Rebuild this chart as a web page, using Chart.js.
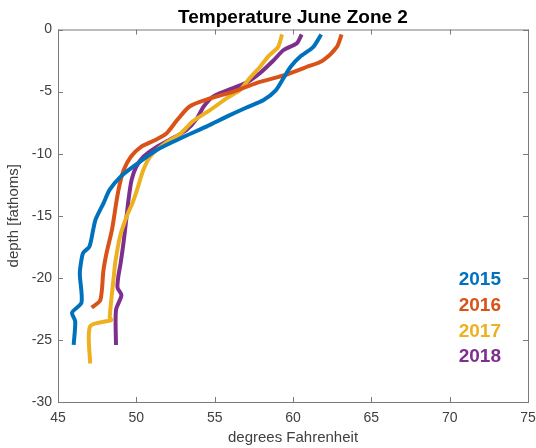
<!DOCTYPE html>
<html>
<head>
<meta charset="utf-8">
<script src="https://cdn.jsdelivr.net/npm/chart.js@4.4.1/dist/chart.umd.min.js"></script>
<style>
	html, body { margin: 0; padding: 0; background: #fff; }
	#wrap { width: 536px; height: 448px; }
</style>
</head>
<body>
<div id="wrap"><canvas id="chart" width="536" height="448"></canvas></div>
<script>
// values: temperature (F) against depth (fathoms)
const years = ['2015', '2016', '2017', '2018'];
const colors = ['#0072BD', '#D95319', '#EDB120', '#7E2F8E'];

const temps2015 = [61.8, 61.3, 60.45, 59.85, 59.4, 58.9, 58.1, 57.0, 55.8, 54.5, 53.1, 51.3, 49.8, 49.0, 48.3, 47.9, 47.4, 47.25, 47.0, 46.6, 46.4, 46.4, 46.5, 45.9, 46.1, 46.0];
const depths2015 = [-0.4, -1.4, -2.2, -3.0, -3.9, -4.9, -5.7, -6.3, -7.0, -7.8, -8.6, -9.7, -11.05, -11.85, -12.9, -14.0, -15.3, -16.1, -17.5, -18.0, -19.4, -19.9, -22.0, -22.8, -23.5, -25.4];

const temps2016 = [63.1, 62.8, 61.9, 60.9, 59.4, 57.7, 56.2, 54.7, 53.4, 52.6, 51.9, 51.2, 50.3, 49.65, 49.2, 48.95, 48.75, 48.45, 48.1, 47.9, 47.7, 47.15];
const depths2016 = [-0.4, -1.4, -2.5, -3.0, -3.7, -4.3, -5.0, -5.55, -6.2, -7.3, -8.4, -8.9, -9.45, -10.25, -11.3, -12.4, -13.7, -16.1, -18.0, -19.4, -21.8, -22.4];

const temps2017 = [59.3, 59.05, 58.4, 57.9, 57.25, 56.6, 55.8, 54.7, 53.6, 52.8, 51.8, 50.9, 50.45, 50.05, 49.75, 49.4, 48.95, 48.65, 48.6, 48.3, 48.4, 47.05, 47.05];
const depths2017 = [-0.4, -1.4, -2.2, -3.0, -3.9, -4.9, -5.5, -6.5, -7.4, -8.4, -9.2, -10.2, -11.3, -12.9, -14.0, -15.0, -16.7, -18.8, -19.4, -23.2, -23.4, -23.9, -26.9];

const temps2018 = [60.55, 60.25, 59.4, 58.75, 57.9, 57.0, 55.8, 54.9, 54.3, 53.85, 53.2, 52.4, 51.3, 50.45, 50.0, 49.7, 49.5, 49.4, 49.2, 49.0, 48.85, 48.8, 49.05, 48.7, 48.7];
const depths2018 = [-0.4, -1.1, -1.65, -2.5, -3.5, -4.3, -4.9, -5.4, -6.2, -7.2, -8.1, -8.7, -9.45, -10.25, -11.05, -12.1, -13.7, -14.8, -17.0, -18.8, -19.9, -20.8, -21.4, -22.6, -25.4];

const xTicks = [45, 50, 55, 60, 65, 70, 75];
const yTicks = [-30, -25, -20, -15, -10, -5, 0];
const titleText = 'Temperature June Zone 2';

const allTemps = [temps2015, temps2016, temps2017, temps2018];
const allDepths = [depths2015, depths2016, depths2017, depths2018];

const textColor = '#404040';
const axisColor = '#7a7a7a';
const fontFamily = '"Liberation Sans", Arial, sans-serif';

function toPoints(t, d){
	return t.map((v, i) => ({x: v, y: d[i]}));
}

// MATLAB style box with inward ticks on all four sides, title over the axes
const boxPlugin = {
	id: 'matlabBox',
	afterDatasetsDraw(chart){
		const ctx = chart.ctx;
		const a = chart.chartArea;
		const xs = chart.scales.x, ys = chart.scales.y;
		const len = 5;
		ctx.save();
		ctx.strokeStyle = axisColor;
		ctx.lineWidth = 1;
		ctx.strokeRect(a.left + 0.5, a.top + 0.5, a.right - a.left, a.bottom - a.top);
		ctx.beginPath();
		xTicks.forEach((v) => {
			const px = Math.round(xs.getPixelForValue(v)) + 0.5;
			ctx.moveTo(px, a.bottom); ctx.lineTo(px, a.bottom - len);
			ctx.moveTo(px, a.top); ctx.lineTo(px, a.top + len);
		});
		yTicks.forEach((v) => {
			const py = Math.round(ys.getPixelForValue(v)) + 0.5;
			ctx.moveTo(a.left, py); ctx.lineTo(a.left + len, py);
			ctx.moveTo(a.right, py); ctx.lineTo(a.right - len, py);
		});
		ctx.stroke();

		// title centred over the plot box
		ctx.fillStyle = '#000';
		ctx.font = 'bold 19px ' + fontFamily;
		ctx.textAlign = 'center';
		ctx.textBaseline = 'alphabetic';
		ctx.fillText(titleText, (a.left + a.right) / 2, a.top - 6.5);

		// year labels in the lower right corner
		ctx.font = 'bold 19px ' + fontFamily;
		ctx.textAlign = 'right';
		ctx.textBaseline = 'middle';
		years.forEach((yr, i) => {
			ctx.fillStyle = colors[i];
			ctx.fillText(yr, a.right - 27, a.bottom - 122 + i * 25.7);
		});
		ctx.restore();
	}
};

const datasets = years.map((yr, i) => ({
	label: yr,
	data: toPoints(allTemps[i], allDepths[i]),
	borderColor: colors[i],
	backgroundColor: colors[i],
	borderWidth: 4,
	pointRadius: 0,
	showLine: true,
	tension: 0.25,
	fill: false
}));

new Chart(document.getElementById('chart'), {
	type: 'scatter',
	data: { datasets: datasets },
	options: {
		responsive: false,
		animation: false,
		layout: { padding: { top: 29.5, left: 0, right: 0, bottom: 0 } },
		plugins: {
			legend: { display: false },
			tooltip: { enabled: false },
			title: { display: false }
		},
		scales: {
			x: {
				type: 'linear',
				min: 45, max: 75,
				afterBuildTicks: (s) => { s.ticks = xTicks.map((v) => ({value: v})); },
				afterFit: (s) => { s.height = 46; s.paddingRight = 8; },
				grid: { display: false, drawTicks: false },
				border: { display: false },
				ticks: {
					color: textColor, padding: 8,
					font: { family: fontFamily, size: 14 }
				},
				title: {
					display: true, text: 'degrees Fahrenheit', color: textColor,
					font: { family: fontFamily, size: 15 },
					padding: { top: 0, bottom: 1 }
				}
			},
			y: {
				type: 'linear',
				min: -30, max: 0,
				afterBuildTicks: (s) => { s.ticks = yTicks.map((v) => ({value: v})); },
				afterFit: (s) => { s.width = 58; },
				grid: { display: false, drawTicks: false },
				border: { display: false },
				ticks: {
					color: textColor, padding: 6,
					font: { family: fontFamily, size: 14 }
				},
				title: {
					display: true, text: 'depth [fathoms]', color: textColor,
					font: { family: fontFamily, size: 15 },
					padding: { top: 5, bottom: 0 }
				}
			}
		}
	},
	plugins: [boxPlugin]
});
</script>
</body>
</html>
